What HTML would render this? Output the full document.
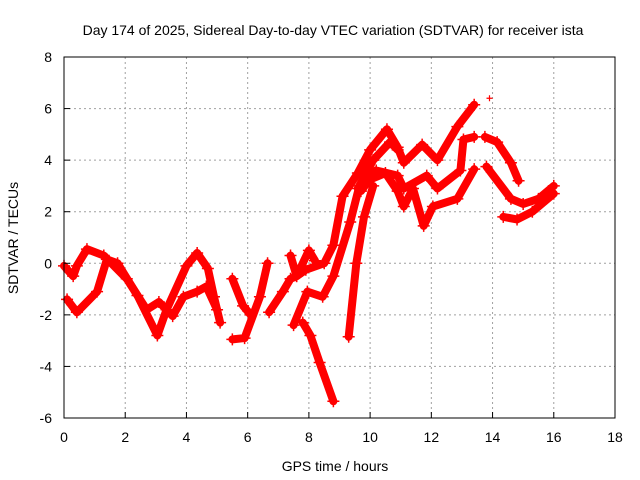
<!DOCTYPE html>
<html><head><meta charset="utf-8"><style>
html,body{margin:0;padding:0;background:#fff}
svg{display:block;font-family:"Liberation Sans",Arial,sans-serif}
</style></head><body>
<svg width="640" height="480" viewBox="0 0 640 480">
<rect width="640" height="480" fill="#fff"/>
<text x="333" y="35" font-size="14" text-anchor="middle">Day 174 of 2025, Sidereal Day-to-day VTEC variation (SDTVAR) for receiver ista</text>
<g id="grid"></g>
<g id="series"></g>
<g id="axes"></g>
<text x="335" y="471" font-size="14" text-anchor="middle">GPS time / hours</text>
<text transform="translate(18,238) rotate(-90)" font-size="14" text-anchor="middle">SDTVAR / TECUs</text>
</svg>
<script>
const xTicks=[0,2,4,6,8,10,12,14,16,18];
const yTicks=[-6,-4,-2,0,2,4,6,8];
const track1T=[0.1,0.42,1.08,1.4,1.75,2.4,3.05,3.35,4.0,4.35,4.7,4.9,5.1];
const track1V=[-1.4,-1.9,-1.1,0.15,0,-1.25,-2.8,-1.8,-0.1,0.4,-0.2,-1.3,-2.3];
const track2T=[0,0.3,0.42,0.75,1.3,2.05,2.7,3.1,3.55,3.9,4.35,4.65,5.0];
const track2V=[-0.1,-0.5,-0.1,0.55,0.3,-0.6,-1.8,-1.5,-2.05,-1.3,-1.1,-0.9,-1.8];
const track3T=[5.5,5.85,6.1];
const track3V=[-0.6,-1.65,-2.0];
const track4T=[5.5,5.9,6.4,6.65];
const track4V=[-2.95,-2.9,-1.3,0];
const track5T=[6.7,7.15,7.4,7.6,7.9,8.5,8.8,9.1];
const track5V=[-1.9,-1.1,-0.6,-0.5,-0.25,0,0.7,2.6];
const track6T=[7.4,7.6,8.0,8.2];
const track6V=[0.3,-0.5,0.5,0.1];
const track7T=[7.5,7.95,8.45,8.8,9.35,9.65,10.0,10.5,10.9,11.1,11.4,11.75,12.05,12.85,13.4];
const track7V=[-2.4,-1.1,-1.3,-0.5,1.6,3.0,3.25,3.5,2.8,2.2,2.9,1.45,2.2,2.5,3.65];
const track8T=[7.8,8.05,8.35,8.8];
const track8V=[-2.3,-2.8,-3.85,-5.35];
const track9T=[9.3,9.55,9.8,10.1];
const track9V=[-2.85,0,1.8,3.0];
const track10T=[9.1,9.6,10.0,10.55,10.9,11.1,11.7,12.2,12.85,13.4];
const track10V=[2.6,3.5,4.4,5.2,4.5,3.9,4.6,4.0,5.3,6.15];
const track11T=[9.7,10.2,10.9,11.1,11.85,12.2,12.95,13.05,13.4];
const track11V=[2.8,3.6,3.4,2.9,3.4,2.9,3.6,4.8,4.9];
const track12T=[13.75,14.15,14.6,14.85];
const track12V=[4.9,4.7,3.9,3.2];
const track13T=[13.8,14.6,15.0,15.5,16.0];
const track13V=[3.75,2.5,2.3,2.5,3.0];
const track14T=[14.35,14.8,15.3,16.0];
const track14V=[1.8,1.7,2.0,2.7];
const track15T=[9.6,10.1,10.65,10.9];
const track15V=[2.9,4.0,4.7,4.4];
const singleT=[13.9];
const singleV=[6.4];
const tracks=[[track1T,track1V],[track2T,track2V],[track3T,track3V],[track4T,track4V],[track5T,track5V],[track6T,track6V],[track7T,track7V],[track8T,track8V],[track9T,track9V],[track10T,track10V],[track11T,track11V],[track12T,track12V],[track13T,track13V],[track14T,track14V],[track15T,track15V]];
const NS="http://www.w3.org/2000/svg";
const X0=64,X1=615,Y0=418,Y1=57;
function sx(t){return X0+(t-0)/(18-0)*(X1-X0);}
function sy(v){return Y0-(v+6)/(8+6)*(Y0-Y1);}
function mk(tag,attrs,parent){const e=document.createElementNS(NS,tag);for(const k in attrs)e.setAttribute(k,attrs[k]);parent.appendChild(e);return e;}
const grid=document.getElementById('grid'),axes=document.getElementById('axes'),ser=document.getElementById('series');
xTicks.forEach(t=>{
  if(t>0&&t<18){const l=mk('line',{x1:sx(t),x2:sx(t),y1:Y1,y2:Y0,stroke:'#a0a0a0','stroke-dasharray':'2,3'},grid);
  
  }
  const tl=mk('line',{x1:sx(t),x2:sx(t),y1:Y0,y2:Y0-6,stroke:'#000'},axes);
  
  
  const tx=mk('text',{x:sx(t),y:Y0+24,'font-size':14,'text-anchor':'middle'},axes);
  tx.textContent=t;
  
  
});
yTicks.forEach(v=>{
  if(v>-6&&v<8){const l=mk('line',{x1:X0,x2:X1,y1:sy(v),y2:sy(v),stroke:'#a0a0a0','stroke-dasharray':'2,3'},grid);
  
  }
  const tl=mk('line',{x1:X0,x2:X0+6,y1:sy(v),y2:sy(v),stroke:'#000'},axes);
  
  
  const tx=mk('text',{x:X0-12,y:sy(v)+5,'font-size':14,'text-anchor':'end'},axes);
  tx.textContent=v;
  
  
});
const fr=mk('rect',{x:X0,y:Y1,width:X1-X0,height:Y0-Y1,fill:'none',stroke:'#000'},axes);


tracks.forEach(([T,V])=>{
  const pts=T.map((t,i)=>sx(t)+','+sy(V[i])).join(' ');
  const pl=mk('polyline',{points:pts,fill:'none',stroke:'#ff0000','stroke-width':8,'stroke-linejoin':'round','stroke-linecap':'round'},ser);
  
  
  T.forEach((t,i)=>{
    const p=mk('path',{d:`M${sx(t)-6},${sy(V[i])}h12M${sx(t)},${sy(V[i])-6}v12`,stroke:'#ff0000','stroke-width':1.5},ser);
    
    
  });
});
singleT.forEach((t,i)=>{
  const p=mk('path',{d:`M${sx(t)-3},${sy(singleV[i])}h6M${sx(t)},${sy(singleV[i])-3}v6`,stroke:'#ff0000','stroke-width':1.2},ser);
  
  
});
</script>
</body></html>
